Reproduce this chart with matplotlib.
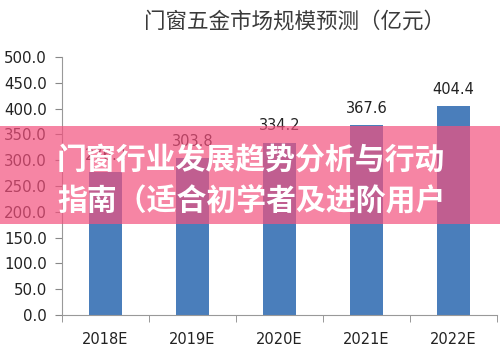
import matplotlib.pyplot as plt
from matplotlib.patches import Rectangle

plt.rcParams['font.family'] = ['Noto Sans CJK SC', 'DejaVu Sans']

# 数据
years = ['2018E', '2019E', '2020E', '2021E', '2022E']
values = [276.2, 303.8, 334.2, 367.6, 404.4]
y_ticks = [0, 50, 100, 150, 200, 250, 300, 350, 400, 450, 500]

title = '门窗五金市场规模预测（亿元）'
banner_lines = ['门窗行业发展趋势分析与行动', '指南（适合初学者及进阶用户']

fig = plt.figure(figsize=(5.0, 3.53), dpi=100)
ax = fig.add_axes([0.124, 0.1076, 0.87, 0.731])

x = range(len(years))
bars = ax.bar(x, values, width=0.39, color='#4A7EBB', zorder=2)
for xi, v in zip(x, values):
    ax.annotate(f'{v:.1f}', (xi, v), xytext=(0, 7), textcoords='offset points',
                ha='center', va='bottom', fontsize=10.5, color='#222222',
                family='DejaVu Sans')

ax.set_xlim(-0.5, len(years) - 0.5)
ax.set_ylim(0, 500)
ax.set_yticks(y_ticks)
ax.set_yticklabels([f'{t:.1f}' for t in y_ticks], family='DejaVu Sans',
                   fontsize=10.8, color='#222222')
ax.set_xticks(list(x))
ax.set_xticklabels(years, family='DejaVu Sans', fontsize=10.5, color='#222222')
ax.set_xticks([i - 0.5 for i in range(len(years) + 1)], minor=True)
ax.tick_params(axis='x', which='major', length=0, pad=12)
ax.tick_params(axis='x', which='minor', length=5, color='#888888', direction='out')
ax.tick_params(axis='y', length=5, color='#888888', pad=6)
for s in ['top', 'right']:
    ax.spines[s].set_visible(False)
for s in ['left', 'bottom']:
    ax.spines[s].set_color('#999999')

fig.text(0.59, 0.938, title, ha='center', va='center', fontsize=15.5, color='#3a3a3a')

# 粉色横幅
y0 = (353 - 224) / 353
y1 = (353 - 126) / 353
fig.patches.append(Rectangle((0, y0), 1, y1 - y0, transform=fig.transFigure,
                             facecolor=(243/255, 81/255, 126/255), alpha=0.7,
                             edgecolor='none', zorder=5))
fig.text(0.114, 1 - 160 / 353, banner_lines[0], ha='left', va='center',
         fontsize=21.5, fontweight='bold', color='white', zorder=6)
fig.text(0.114, 1 - 200 / 353, banner_lines[1], ha='left', va='center',
         fontsize=21.5, fontweight='bold', color='white', zorder=6)

fig.savefig('out.png', dpi=100)
